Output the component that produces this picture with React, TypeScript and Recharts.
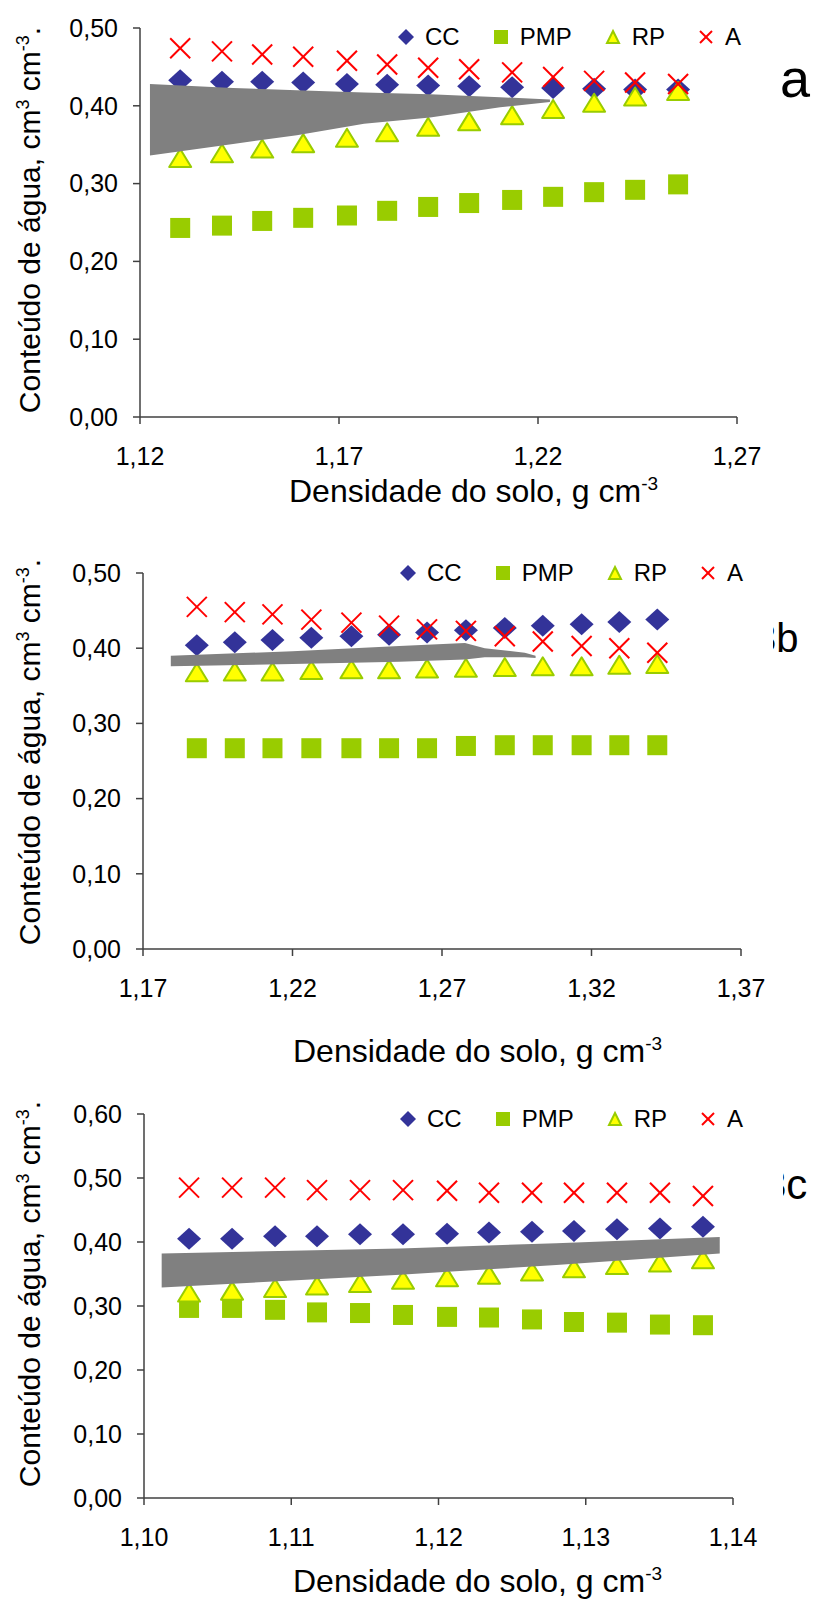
import React from "react";
import { ComposedChart, Scatter, Area, XAxis, YAxis, Legend } from "recharts";

const FONT = '"Liberation Sans", Arial, sans-serif';
const NAVY = "#333399";
const GREEN = "#99CC00";
const YELLOW = "#FFFF00";
const RED = "#FF0000";
const GRAY = "#808080";
const AXIS = "#404040";

// painel a
const densA = [1.1301, 1.1406, 1.1507, 1.161, 1.172, 1.1821, 1.1924, 1.2027, 1.2135, 1.2238, 1.2341, 1.2444, 1.2552];
const ccA = [0.433, 0.431, 0.431, 0.43, 0.428, 0.427, 0.426, 0.425, 0.424, 0.423, 0.422, 0.421, 0.421];
const pmpA = [0.243, 0.246, 0.252, 0.256, 0.259, 0.265, 0.27, 0.275, 0.279, 0.283, 0.289, 0.292, 0.299];
const rpA = [0.333, 0.339, 0.345, 0.352, 0.359, 0.366, 0.373, 0.38, 0.388, 0.396, 0.404, 0.412, 0.419];
const aA = [0.474, 0.47, 0.466, 0.463, 0.458, 0.453, 0.449, 0.447, 0.443, 0.437, 0.432, 0.43, 0.428];
const bandXA = [1.1225, 1.1434, 1.1594, 1.1763, 1.1929, 1.2105, 1.223];
const bandLoA = [0.336, 0.351, 0.362, 0.377, 0.385, 0.398, 0.405];
const bandHiA = [0.428, 0.423, 0.42, 0.417, 0.415, 0.411, 0.408];
const xTicksA = [1.12, 1.17, 1.22, 1.27];

// painel b
const densB = [1.188, 1.2007, 1.2133, 1.2263, 1.2397, 1.2523, 1.265, 1.278, 1.291, 1.3037, 1.3167, 1.3293, 1.342];
const ccB = [0.404, 0.408, 0.411, 0.414, 0.416, 0.418, 0.421, 0.424, 0.427, 0.43, 0.432, 0.435, 0.438];
const pmpB = [0.267, 0.267, 0.267, 0.267, 0.267, 0.267, 0.267, 0.27, 0.271, 0.271, 0.271, 0.271, 0.271];
const rpB = [0.368, 0.369, 0.369, 0.371, 0.372, 0.372, 0.373, 0.374, 0.375, 0.376, 0.376, 0.378, 0.379];
const aB = [0.455, 0.448, 0.445, 0.438, 0.434, 0.43, 0.425, 0.423, 0.416, 0.409, 0.403, 0.4, 0.394];
const bandXB = [1.1793, 1.22, 1.2557, 1.2777, 1.2843, 1.2977, 1.3013];
const bandLoB = [0.376, 0.379, 0.382, 0.385, 0.388, 0.388, 0.387];
const bandHiB = [0.39, 0.396, 0.403, 0.407, 0.4, 0.394, 0.39];
const xTicksB = [1.17, 1.22, 1.27, 1.32, 1.37];

// painel c
const densC = [1.10306, 1.10598, 1.1089, 1.11175, 1.11467, 1.11759, 1.12058, 1.12343, 1.12635, 1.1292, 1.13212, 1.13504, 1.13796];
const ccC = [0.405, 0.405, 0.409, 0.409, 0.412, 0.412, 0.413, 0.415, 0.416, 0.417, 0.42, 0.421, 0.424];
const pmpC = [0.297, 0.297, 0.294, 0.29, 0.289, 0.286, 0.283, 0.282, 0.279, 0.275, 0.274, 0.271, 0.27];
const rpC = [0.321, 0.324, 0.328, 0.332, 0.336, 0.341, 0.345, 0.349, 0.354, 0.359, 0.364, 0.368, 0.373];
const aC = [0.485, 0.485, 0.485, 0.481, 0.481, 0.481, 0.48, 0.477, 0.477, 0.477, 0.477, 0.477, 0.472];
const bandXC = [1.1012, 1.1174, 1.128, 1.1391];
const bandLoC = [0.329, 0.349, 0.364, 0.382];
const bandHiC = [0.382, 0.39, 0.398, 0.408];
const xTicksC = [1.1, 1.11, 1.12, 1.13, 1.14];

const yTicks5 = [0, 0.1, 0.2, 0.3, 0.4, 0.5];
const yTicks6 = [0, 0.1, 0.2, 0.3, 0.4, 0.5, 0.6];

const fmt2 = (v: number) => v.toFixed(2).replace(".", ",");

function DiamondDot({ cx, cy }: any) {
  return <polygon points={`${cx},${cy - 11} ${cx + 12},${cy} ${cx},${cy + 11} ${cx - 12},${cy}`} fill={NAVY} />;
}
function SquareDot({ cx, cy }: any) {
  return <rect x={cx - 10} y={cy - 10} width={20} height={20} fill={GREEN} />;
}
function TriangleDot({ cx, cy }: any) {
  return (
    <polygon
      points={`${cx},${cy - 9} ${cx + 11},${cy + 9} ${cx - 11},${cy + 9}`}
      fill={YELLOW}
      stroke={GREEN}
      strokeWidth={2}
      strokeLinejoin="round"
    />
  );
}
function CrossDot({ cx, cy }: any) {
  return (
    <g stroke={RED} strokeWidth={2}>
      <line x1={cx - 10} y1={cy - 10} x2={cx + 10} y2={cy + 10} />
      <line x1={cx - 10} y1={cy + 10} x2={cx + 10} y2={cy - 10} />
    </g>
  );
}

const legendItems = [
  { name: "CC", mark: <polygon points="7,-1 15,7 7,15 -1,7" fill={NAVY} /> },
  { name: "PMP", mark: <rect x={0} y={0} width={14} height={14} fill={GREEN} /> },
  { name: "RP", mark: <polygon points="7,1 13,13 1,13" fill={YELLOW} stroke={GREEN} strokeWidth={2} /> },
  {
    name: "A",
    mark: (
      <g stroke={RED} strokeWidth={2}>
        <line x1={1} y1={1} x2={13} y2={13} />
        <line x1={1} y1={13} x2={13} y2={1} />
      </g>
    ),
  },
];

function LegendBox() {
  return (
    <div style={{ display: "flex", alignItems: "center", fontFamily: FONT, fontSize: 24, lineHeight: "24px", color: "#000" }}>
      {legendItems.map((it) => (
        <span key={it.name} style={{ display: "flex", alignItems: "center", marginRight: 34 }}>
          <svg width={14} height={14} style={{ overflow: "visible" }}>
            {it.mark}
          </svg>
          <span style={{ marginLeft: 12 }}>{it.name}</span>
        </span>
      ))}
    </div>
  );
}

interface PanelProps {
  top: number;
  height: number;
  plotTop: number;
  plotBottom: number;
  plotLeft: number;
  plotRight: number;
  xDomain: [number, number];
  xTicks: number[];
  yDomain: [number, number];
  yTicks: number[];
  dens: number[];
  cc: number[];
  pmp: number[];
  rp: number[];
  a: number[];
  bandX: number[];
  bandLo: number[];
  bandHi: number[];
  legendLeft: number;
  legendTop: number;
}

function Panel(p: PanelProps) {
  const pts = (ys: number[]) => p.dens.map((x, i) => ({ x, y: ys[i] }));
  const band = p.bandX.map((x, i) => ({ x, range: [p.bandLo[i], p.bandHi[i]] }));
  const tickStyle = { fill: "#000", fontSize: 25, fontFamily: FONT };
  return (
    <div style={{ position: "absolute", left: 0, top: p.top, width: 819, height: p.height }}>
      <ComposedChart
        width={819}
        height={p.height}
        margin={{ top: p.plotTop, right: 819 - p.plotRight, bottom: p.height - p.plotBottom - 60, left: 0 }}
      >
        <XAxis
          type="number"
          dataKey="x"
          domain={p.xDomain}
          ticks={p.xTicks}
          interval={0}
          allowDataOverflow
          height={60}
          tickSize={7}
          tickMargin={23}
          stroke={AXIS}
          strokeWidth={1.5}
          tick={tickStyle}
          tickFormatter={fmt2}
        />
        <YAxis
          type="number"
          domain={p.yDomain}
          ticks={p.yTicks}
          interval={0}
          allowDataOverflow
          width={p.plotLeft}
          tickSize={7}
          tickMargin={15}
          stroke={AXIS}
          strokeWidth={1.5}
          tick={tickStyle}
          tickFormatter={fmt2}
        />
        <Legend
          layout="horizontal"
          verticalAlign="middle"
          align="center"
          wrapperStyle={{ left: p.legendLeft, top: p.legendTop, width: "auto" }}
          content={() => <LegendBox />}
        />
        <Scatter name="CC" data={pts(p.cc)} dataKey="y" shape={DiamondDot} isAnimationActive={false} />
        <Scatter name="PMP" data={pts(p.pmp)} dataKey="y" shape={SquareDot} isAnimationActive={false} />
        <Scatter name="RP" data={pts(p.rp)} dataKey="y" shape={TriangleDot} isAnimationActive={false} />
        <Scatter name="A" data={pts(p.a)} dataKey="y" shape={CrossDot} isAnimationActive={false} />
        <Area
          data={band}
          dataKey="range"
          type="linear"
          stroke="none"
          fill={GRAY}
          fillOpacity={1}
          dot={false}
          activeDot={false}
          legendType="none"
          zIndex={1000}
          isAnimationActive={false}
        />
      </ComposedChart>
    </div>
  );
}

function XTitle({ x, y }: { x: number; y: number }) {
  return (
    <text x={x} y={y} fontSize={32} fontFamily={FONT} fill="#000">
      Densidade do solo, g cm
      <tspan dy={-12} fontSize={19}>
        -3
      </tspan>
    </text>
  );
}

function YTitle({ x, y }: { x: number; y: number }) {
  return (
    <text x={x} y={y} transform={`rotate(-90 ${x} ${y})`} textAnchor="middle" fontSize={30} fontFamily={FONT} fill="#000">
      Conteúdo de água, cm
      <tspan dy={-11} fontSize={18}>
        3
      </tspan>
      <tspan dy={11}> cm</tspan>
      <tspan dy={-11} fontSize={18}>
        -3
      </tspan>
      <tspan dy={11}>.</tspan>
    </text>
  );
}

function Overlay() {
  return (
    <svg width={819} height={1600} style={{ position: "absolute", left: 0, top: 0, pointerEvents: "none" }}>
      <defs>
        <clipPath id="clipB">
          <rect x={773} y={560} width={46} height={120} />
        </clipPath>
        <clipPath id="clipC">
          <rect x={783} y={1140} width={36} height={80} />
        </clipPath>
      </defs>
      <XTitle x={289} y={502} />
      <XTitle x={293} y={1062} />
      <XTitle x={293} y={1592} />
      <YTitle x={40} y={220} />
      <YTitle x={40} y={752} />
      <YTitle x={40} y={1294} />
      <text x={780} y={97} fontSize={54} fontFamily={FONT} fill="#000">
        a
      </text>
      <text x={754} y={652} fontSize={40} fontFamily={FONT} fill="#000" clipPath="url(#clipB)">
        3b
      </text>
      <text x={763} y={1199} fontSize={42} fontFamily={FONT} fill="#000" clipPath="url(#clipC)">
        3c
      </text>
    </svg>
  );
}

export default function App() {
  return (
    <div style={{ position: "absolute", left: 0, top: 0, width: 819, height: 1600, background: "#fff" }}>
      <Panel
        top={0}
        height={530}
        plotTop={28}
        plotBottom={417}
        plotLeft={140}
        plotRight={737}
        xDomain={[1.12, 1.27]}
        xTicks={xTicksA}
        yDomain={[0, 0.5]}
        yTicks={yTicks5}
        dens={densA}
        cc={ccA}
        pmp={pmpA}
        rp={rpA}
        a={aA}
        bandX={bandXA}
        bandLo={bandLoA}
        bandHi={bandHiA}
        legendLeft={399}
        legendTop={25}
      />
      <Panel
        top={530}
        height={540}
        plotTop={43}
        plotBottom={419}
        plotLeft={143}
        plotRight={741}
        xDomain={[1.17, 1.37]}
        xTicks={xTicksB}
        yDomain={[0, 0.5]}
        yTicks={yTicks5}
        dens={densB}
        cc={ccB}
        pmp={pmpB}
        rp={rpB}
        a={aB}
        bandX={bandXB}
        bandLo={bandLoB}
        bandHi={bandHiB}
        legendLeft={401}
        legendTop={31}
      />
      <Panel
        top={1070}
        height={530}
        plotTop={44}
        plotBottom={428}
        plotLeft={144}
        plotRight={733}
        xDomain={[1.1, 1.14]}
        xTicks={xTicksC}
        yDomain={[0, 0.6]}
        yTicks={yTicks6}
        dens={densC}
        cc={ccC}
        pmp={pmpC}
        rp={rpC}
        a={aC}
        bandX={bandXC}
        bandLo={bandLoC}
        bandHi={bandHiC}
        legendLeft={401}
        legendTop={37}
      />
      <Overlay />
    </div>
  );
}
